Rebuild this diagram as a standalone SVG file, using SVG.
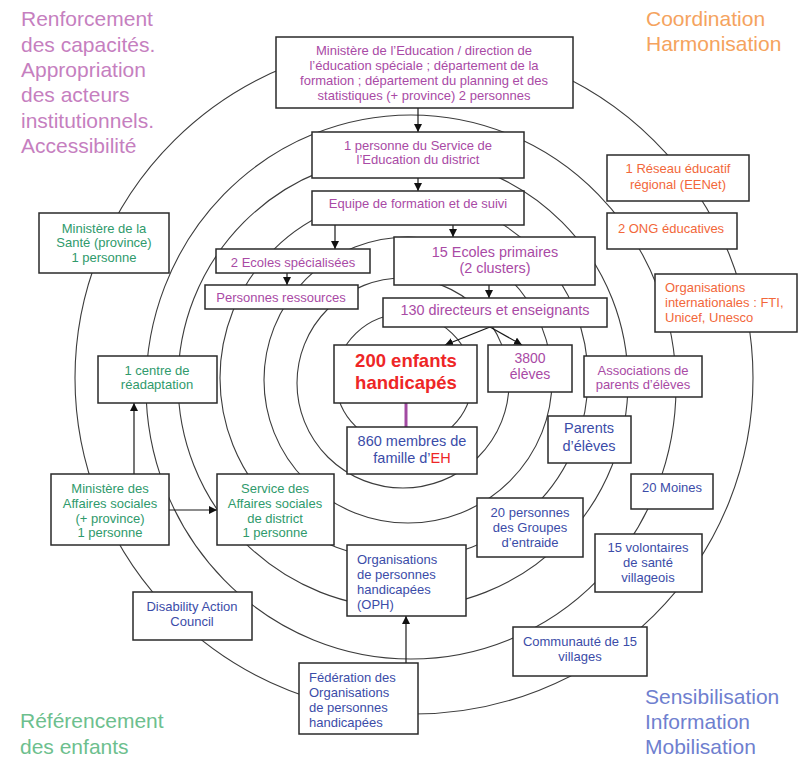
<svg xmlns="http://www.w3.org/2000/svg" width="800" height="758" viewBox="0 0 800 758">
<defs>
<marker id="arr" viewBox="0 0 8 8" refX="8" refY="4" markerWidth="8" markerHeight="8" markerUnits="userSpaceOnUse" orient="auto">
<path d="M0,0 L8,4 L0,8 z" fill="#111"/>
</marker>
<style>
.ring{fill:none;stroke:#3c3c3c;stroke-width:1.1}
.box{fill:#fff;stroke:#2a2a2a;stroke-width:1.5}
.t{font-family:"Liberation Sans",Arial,sans-serif;font-size:13px;text-anchor:middle}
.l{text-anchor:start}
.pu{fill:#a94aa5}
.gr{fill:#2f9a6c}
.or{fill:#f2673a}
.bl{fill:#3b4ca8}
.rd{fill:#ee2626}
.big{font-size:14.4px}
.corner{font-family:"Liberation Sans",Arial,sans-serif;font-size:21px}
.conn{stroke:#1a1a1a;stroke-width:1.2;fill:none}
</style>
</defs>
<rect width="800" height="758" fill="#fff"/>

<g id="rings">
<ellipse class="ring" cx="414" cy="378" rx="339" ry="336"/>
<ellipse class="ring" cx="411" cy="387" rx="265" ry="272"/>
<ellipse class="ring" cx="403" cy="382" rx="225" ry="226"/>
<ellipse class="ring" cx="404" cy="378" rx="184" ry="182"/>
<ellipse class="ring" cx="408" cy="380" rx="144" ry="143"/>
<ellipse class="ring" cx="403" cy="383" rx="106" ry="105"/>
<ellipse class="ring" cx="404" cy="380" rx="68" ry="66"/>
</g>

<g id="corner-labels" class="corner">
<text x="21" y="26" fill="#c67fbf">Renforcement</text>
<text x="21" y="51.5" fill="#c67fbf">des capacités.</text>
<text x="21" y="77" fill="#c67fbf">Appropriation</text>
<text x="21" y="102" fill="#c67fbf">des acteurs</text>
<text x="21" y="127.5" fill="#c67fbf">institutionnels.</text>
<text x="21" y="153" fill="#c67fbf">Accessibilité</text>
<text x="646" y="26" fill="#f5a35e">Coordination</text>
<text x="646" y="51" fill="#f5a35e">Harmonisation</text>
<text x="20" y="728" fill="#6dbf8e">Référencement</text>
<text x="20" y="754" fill="#6dbf8e">des enfants</text>
<text x="645" y="704" fill="#6f7fcf">Sensibilisation</text>
<text x="645" y="729" fill="#6f7fcf">Information</text>
<text x="645" y="754" fill="#6f7fcf">Mobilisation</text>
</g>

<g id="connectors">
<line class="conn" x1="418" y1="108" x2="418" y2="132" marker-end="url(#arr)"/>
<line class="conn" x1="418" y1="178" x2="418" y2="191" marker-end="url(#arr)"/>
<line class="conn" x1="335" y1="225" x2="335" y2="249" marker-end="url(#arr)"/>
<line class="conn" x1="453" y1="225" x2="453" y2="237" marker-end="url(#arr)"/>
<line class="conn" x1="287" y1="273" x2="287" y2="285" marker-end="url(#arr)"/>
<line class="conn" x1="489" y1="285" x2="489" y2="298" marker-end="url(#arr)"/>
<line class="conn" x1="490" y1="327" x2="445" y2="345" marker-end="url(#arr)"/>
<line class="conn" x1="490" y1="327" x2="522" y2="345" marker-end="url(#arr)"/>
<line x1="406" y1="403" x2="406" y2="427" stroke="#a24aa2" stroke-width="3"/>
<line class="conn" x1="134" y1="474" x2="134" y2="403" marker-end="url(#arr)"/>
<line class="conn" x1="169" y1="510" x2="217" y2="510" marker-end="url(#arr)"/>
<line class="conn" x1="406" y1="663" x2="406" y2="616" marker-end="url(#arr)"/>
</g>

<g id="n-min-edu">
<rect class="box" x="276" y="37" width="297" height="71"/>
<text class="t pu" x="424" y="55">Ministère de l’Education / direction de</text>
<text class="t pu" x="424" y="70">l’éducation spéciale ; département de la</text>
<text class="t pu" x="424" y="85">formation ; département du planning et des</text>
<text class="t pu" x="424" y="100">statistiques (+ province) 2 personnes</text>
</g>
<g id="n-svc-edu">
<rect class="box" x="312" y="132" width="212" height="46"/>
<text class="t pu" x="418" y="150">1 personne du Service de</text>
<text class="t pu" x="418" y="164">l’Education du district</text>
</g>
<g id="n-equipe">
<rect class="box" x="312" y="191" width="212" height="34"/>
<text class="t pu" x="418" y="207.5">Equipe de formation et de suivi</text>
</g>
<g id="n-ecoles-spec">
<rect class="box" x="216" y="249" width="154" height="24"/>
<text class="t pu" x="293" y="266.5">2 Ecoles spécialisées</text>
</g>
<g id="n-pers-res">
<rect class="box" x="205" y="285" width="153" height="24"/>
<text class="t pu" x="281" y="301.5">Personnes ressources</text>
</g>
<g id="n-ecoles-prim">
<rect class="box" x="394" y="237" width="201" height="48"/>
<text class="t pu big" x="495" y="257">15 Ecoles primaires</text>
<text class="t pu big" x="495" y="273">(2 clusters)</text>
</g>
<g id="n-130">
<rect class="box" x="383" y="298" width="224" height="29"/>
<text class="t pu big" x="495" y="315">130 directeurs et enseignants</text>
</g>
<g id="n-200">
<rect class="box" x="334" y="345" width="143" height="58"/>
<text class="t rd" x="406" y="367" style="font-size:18.5px;font-weight:bold">200 enfants</text>
<text class="t rd" x="406" y="389" style="font-size:18.5px;font-weight:bold">handicapés</text>
</g>
<g id="n-3800">
<rect class="box" x="488" y="345" width="84" height="47"/>
<text class="t pu" x="530" y="363" style="font-size:14px">3800</text>
<text class="t pu" x="530" y="379" style="font-size:14px">élèves</text>
</g>
<g id="n-860">
<rect class="box" x="347" y="427" width="130" height="47"/>
<text class="t bl" x="412" y="446" style="font-size:14.5px">860 membres de</text>
<text class="t bl" x="412" y="463" style="font-size:14.5px">famille d’<tspan class="rd">EH</tspan></text>
</g>
<g id="n-sante">
<rect class="box" x="39" y="213" width="130" height="60"/>
<text class="t gr" x="104" y="233">Ministère de la</text>
<text class="t gr" x="104" y="247">Santé (province)</text>
<text class="t gr" x="104" y="262">1 personne</text>
</g>
<g id="n-centre">
<rect class="box" x="98" y="356" width="119" height="47"/>
<text class="t gr" x="157" y="374.5">1 centre de</text>
<text class="t gr" x="157" y="389">réadaptation</text>
</g>
<g id="n-min-as">
<rect class="box" x="51" y="474" width="118" height="71"/>
<text class="t gr" x="110" y="492.5">Ministère des</text>
<text class="t gr" x="110" y="507.5">Affaires sociales</text>
<text class="t gr" x="110" y="522.5">(+ province)</text>
<text class="t gr" x="110" y="537">1 personne</text>
</g>
<g id="n-svc-as">
<rect class="box" x="217" y="474" width="117" height="71"/>
<text class="t gr" x="275" y="492.5">Service des</text>
<text class="t gr" x="275" y="507.5">Affaires sociales</text>
<text class="t gr" x="275" y="522.5">de district</text>
<text class="t gr" x="275" y="537">1 personne</text>
</g>
<g id="n-reseau">
<rect class="box" x="607" y="155" width="142" height="46"/>
<text class="t or" x="678" y="172.5">1 Réseau éducatif</text>
<text class="t or" x="678" y="188.5">régional (EENet)</text>
</g>
<g id="n-ong">
<rect class="box" x="607" y="213" width="130" height="36"/>
<text class="t or" x="671" y="232.5">2 ONG éducatives</text>
</g>
<g id="n-org-int">
<rect class="box" x="655" y="274" width="142" height="58"/>
<text class="t or l" x="665" y="291.5">Organisations</text>
<text class="t or l" x="665" y="306.5">internationales : FTI,</text>
<text class="t or l" x="665" y="321.5">Unicef, Unesco</text>
</g>
<g id="n-assoc">
<rect class="box" x="584" y="356" width="118" height="41"/>
<text class="t pu" x="643" y="374.5">Associations de</text>
<text class="t pu" x="643" y="388.5">parents d’élèves</text>
</g>
<g id="n-parents">
<rect class="box" x="548" y="416" width="83" height="47"/>
<text class="t bl" x="589" y="433" style="font-size:14.5px">Parents</text>
<text class="t bl" x="589" y="451" style="font-size:14.5px">d’élèves</text>
</g>
<g id="n-moines">
<rect class="box" x="631" y="474" width="82" height="35"/>
<text class="t bl" x="672" y="491.5">20 Moines</text>
</g>
<g id="n-groupes">
<rect class="box" x="477" y="498" width="106" height="59"/>
<text class="t bl" x="530" y="516.5">20 personnes</text>
<text class="t bl" x="530" y="531.5">des Groupes</text>
<text class="t bl" x="530" y="546.5">d’entraide</text>
</g>
<g id="n-volont">
<rect class="box" x="595" y="534" width="107" height="58"/>
<text class="t bl" x="648" y="551.5">15 volontaires</text>
<text class="t bl" x="648" y="566.5">de santé</text>
<text class="t bl" x="648" y="581.5">villageois</text>
</g>
<g id="n-oph">
<rect class="box" x="347" y="545" width="119" height="71"/>
<text class="t bl l" x="357" y="563.5">Organisations</text>
<text class="t bl l" x="357" y="578.5">de personnes</text>
<text class="t bl l" x="357" y="593.5">handicapées</text>
<text class="t bl l" x="357" y="608.5">(OPH)</text>
</g>
<g id="n-dac">
<rect class="box" x="133" y="592" width="119" height="48"/>
<text class="t bl" x="192" y="610.5">Disability Action</text>
<text class="t bl" x="192" y="625.5">Council</text>
</g>
<g id="n-fed">
<rect class="box" x="299" y="663" width="119" height="71"/>
<text class="t bl l" x="309" y="681.5">Fédération des</text>
<text class="t bl l" x="309" y="696.5">Organisations</text>
<text class="t bl l" x="309" y="711.5">de personnes</text>
<text class="t bl l" x="309" y="726.5">handicapées</text>
</g>
<g id="n-comm">
<rect class="box" x="513" y="627" width="134" height="49"/>
<text class="t bl" x="580" y="646">Communauté de 15</text>
<text class="t bl" x="580" y="660.5">villages</text>
</g>
</svg>
